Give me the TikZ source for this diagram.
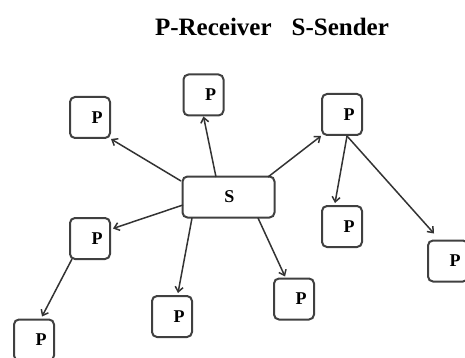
\documentclass[tikz,border=0pt]{standalone}
\usepackage{fontspec}
\setmainfont{Liberation Serif}
\usetikzlibrary{arrows.meta,calc}
\begin{document}
\begin{tikzpicture}[x=1pt,y=-1pt,
  pbox/.style={draw=black!75, line width=2pt, rounded corners=5pt, minimum width=40pt, minimum height=41pt, inner sep=0pt, font=\fontsize{18}{18}\selectfont\bfseries},
  sbox/.style={draw=black!75, line width=2pt, rounded corners=5pt, minimum width=92pt, minimum height=41pt, inner sep=0pt, font=\fontsize{18}{18}\selectfont\bfseries},
  conn/.style={draw=black!80, line width=1.5pt, -{Straight Barb[length=5pt,width=8pt]}}]
\useasboundingbox (0,0) rectangle (465,358);
\node[font=\fontsize{25}{25}\selectfont\bfseries] (title) at (272,27) {P-Receiver\hspace{20pt}S-Sender};
\node[sbox] (s) at (228.5,197) {\hspace*{2pt}\raisebox{-3pt}{S}};
\node[pbox] (p1) at (90,117.5) {\hspace*{14pt}P};
\node[pbox] (p2) at (203.5,95) {\hspace*{14pt}P};
\node[pbox] (p3) at (342,114.5) {\hspace*{14pt}P};
\node[pbox] (p4) at (90,238.5) {\hspace*{14pt}P};
\node[pbox] (p5) at (34,340) {\hspace*{14pt}P};
\node[pbox] (p6) at (172,316.5) {\hspace*{14pt}P};
\node[pbox] (p7) at (294,299) {\hspace*{14pt}P};
\node[pbox] (p8) at (342,226.5) {\hspace*{14pt}P};
\node[pbox] (p9) at (448,261) {\hspace*{14pt}P};
\coordinate (s0) at (181,181);
\coordinate (s1) at (216,177);
\coordinate (s2) at (268,177);
\coordinate (s3) at (183,205);
\coordinate (s4) at (192,218);
\coordinate (s5) at (258,218);
\coordinate (p3b) at (347,136);
\coordinate (p4b) at (72,259);
\draw[conn] (s0) -- (p1.south east);
\draw[conn] (s1) -- (p2.south);
\draw[conn] (s2) -- (p3.south west);
\draw[conn] (s3) -- ($(p4.east)+(2,-10)$);
\draw[conn] (s4) -- ($(p6.north)+(6,-2)$);
\draw[conn] (s5) -- ($(p7.north west)+(12,-1)$);
\draw[conn] (p3b) -- ($(p8.north)+(-7,-2)$);
\draw[conn] (p3b) -- ($(p9.north west)+(7,-6)$);
\draw[conn] (p4b) -- ($(p5.north)+(8,-2)$);
\end{tikzpicture}
\end{document}
